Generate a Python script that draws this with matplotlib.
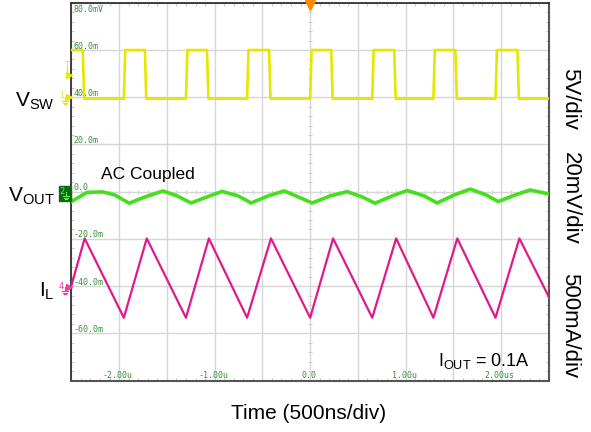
import matplotlib
matplotlib.use('Agg')
import matplotlib.pyplot as plt
from matplotlib import transforms
from matplotlib.patches import Rectangle

plt.rcParams['font.family'] = ['Liberation Sans', 'DejaVu Sans']
plt.rcParams['mathtext.fontset'] = 'custom'
plt.rcParams['mathtext.rm'] = 'Liberation Sans'

# ---------------- data (time in microseconds, 500 ns/div) ----------------
x_ticks = [-2.0, -1.0, 0.0, 1.0, 2.0]
x_tick_labels = ['-2.00u', '-1.00u', '0.0', '1.00u', '2.00us']
y_ticks = [80, 60, 40, 20, 0, -20, -40, -60]
y_tick_labels = ['80.0mV', '60.0m', '40.0m', '20.0m', '0.0', '-20.0m', '-40.0m', '-60.0m']

# Switch node voltage VSW (V)
vsw_high = 5.0
vsw_low = -0.15
vsw_rise_us = [-1.95, -1.30, -0.66, 0.00, 0.65, 1.29, 1.94]
vsw_fall_us = [-2.38, -1.73, -1.08, -0.43, 0.22, 0.88, 1.52, 2.17]

# Inductor current IL (mA), triangle vertices
il_t_us = [-2.50, -2.36, -1.95, -1.71, -1.30, -1.06, -0.66, -0.41,
           0.00, 0.24, 0.65, 0.90, 1.29, 1.54, 1.94, 2.19, 2.50]
il_ma = [10, 512, -328, 512, -328, 512, -328, 512,
         -328, 512, -328, 512, -328, 512, -328, 512, -110]

# Output ripple VOUT (mV, AC coupled)
vout_t_us = [-2.50, -2.335, -2.17, -2.045, -1.894, -1.727, -1.539, -1.392,
             -1.246, -1.078, -0.921, -0.754, -0.618, -0.44, -0.272, -0.126,
             0.021, 0.209, 0.387, 0.544, 0.680, 0.858, 1.015, 1.193,
             1.329, 1.507, 1.675, 1.842, 1.968, 2.146, 2.303, 2.50]
vout_mv = [-3.2, 0.7, 0.9, -0.4, -3.9, -1.2, 1.3, -0.8,
           -3.8, -1.2, 1.1, -0.8, -3.8, -0.8, 1.3, -1.2,
           -3.8, -0.8, 1.0, -1.2, -3.9, -0.8, 1.5, -0.8,
           -3.8, -0.4, 2.1, -0.4, -3.2, -0.4, 1.7, 0.0]

# channel display settings (screen units: 20 per division)
CH1_POS, CH1_SCALE = 40.0, 20.0 / 5.0      # 5 V/div
CH2_POS, CH2_SCALE = -1.0, 20.0 / 20.0     # 20 mV/div
CH4_POS, CH4_SCALE = -40.3, 20.0 / 500.0   # 500 mA/div

# ---------------- build VSW edges ----------------
events = sorted([(t, vsw_high) for t in vsw_rise_us] + [(t, vsw_low) for t in vsw_fall_us])
vsw_t = [-2.5]
vsw_v = [vsw_high]
cur = vsw_high
for t, lvl in events:
    vsw_t += [t, t + 0.015]
    vsw_v += [cur, lvl]
    cur = lvl
vsw_t.append(2.5)
vsw_v.append(cur)

# ---------------- figure ----------------
W, H = 591, 432
fig = plt.figure(figsize=(W / 100, H / 100), dpi=100)
L, R, T, B = 71.3, 549.0, 2.8, 380.5
ax = fig.add_axes([L / W, 1 - B / H, (R - L) / W, (B - T) / H])
ax.set_xlim(-2.5, 2.5)
ax.set_ylim(-80, 80)

ax.set_xticks([-2.5 + 0.5 * i for i in range(11)])
ax.set_yticks([-80 + 20 * i for i in range(9)])
ax.set_xticks([-2.5 + 0.1 * i for i in range(51)], minor=True)
ax.set_yticks([-80 + 4 * i for i in range(41)], minor=True)
ax.tick_params(which='major', length=0, labelbottom=False, labelleft=False)
ax.tick_params(which='minor', direction='in', length=2.5, color='#c8c8c8', width=0.7,
               top=True, right=True, bottom=True, left=True)
ax.grid(True, which='major', color='#d6d6d6', lw=1.0)
for s in ['left', 'top']:
    ax.spines[s].set_color('#303030')
    ax.spines[s].set_linewidth(1.3)
for s in ['right', 'bottom']:
    ax.spines[s].set_color('#555555')
    ax.spines[s].set_linewidth(1.5)

# center-line ticks
ax.plot([-2.5 + 0.1 * i for i in range(51)], [0] * 51, ls='none', marker='|',
        ms=3.5, mew=0.7, color='#c8c8c8', zorder=1)
ax.plot([0] * 41, [-80 + 4 * i for i in range(41)], ls='none', marker='_',
        ms=3.5, mew=0.7, color='#c8c8c8', zorder=1)

# traces
ax.plot(vsw_t, [CH1_POS + v * CH1_SCALE for v in vsw_v], color='#e6e600', lw=1.9,
        solid_joinstyle='round', zorder=3)
ax.plot(vout_t_us, [CH2_POS + v * CH2_SCALE for v in vout_mv], color='#44e01c', lw=2.6,
        solid_joinstyle='round', zorder=3)
ax.plot(il_t_us, [CH4_POS + v * CH4_SCALE for v in il_ma], color='#e0198c', lw=1.6,
        zorder=3)

# scope graticule labels
lab_col = '#3a8f3a'
ytr = transforms.offset_copy(ax.get_yaxis_transform(), fig=fig, x=2, y=1.5, units='dots')
for v, s in zip(y_ticks, y_tick_labels):
    if v == 80:
        ax.text(0.0, v, s, transform=transforms.offset_copy(ax.get_yaxis_transform(), fig=fig,
                x=2, y=-2, units='dots'), ha='left', va='top', fontsize=6,
                family='DejaVu Sans Mono', color=lab_col)
    else:
        ax.text(0.0, v, s, transform=ytr, ha='left', va='baseline', fontsize=6,
                family='DejaVu Sans Mono', color=lab_col)
xtr = transforms.offset_copy(ax.get_xaxis_transform(), fig=fig, x=-1.5, y=2, units='dots')
for v, s in zip(x_ticks, x_tick_labels):
    ax.text(v, 0.0, s, transform=xtr, ha='center', va='baseline', fontsize=6,
            family='DejaVu Sans Mono', color=lab_col)

# ---------------- overlay in pixel coordinates ----------------
ov = fig.add_axes([0, 0, 1, 1], zorder=5)
ov.set_xlim(0, W)
ov.set_ylim(H, 0)
ov.axis('off')
ov.patch.set_alpha(0)

# trigger position marker
ov.plot([310], [5], marker='v', ms=7, color='#ff8c00', mec='#ff8c00', clip_on=False)

# channel markers
yel = '#e8e800'
ov.text(66.5, 61.5, 'T', fontsize=6, color=yel, ha='center', va='top', family='DejaVu Sans')
ov.plot([66.5, 66.5], [66, 74], color=yel, lw=0.8)
ov.plot([68.8], [74.5], marker='>', ms=5, color=yel)
def ground(x, y, c):
    ov.plot([x, x], [y, y + 4], color=c, lw=0.8)
    ov.plot([x - 3, x + 3], [y + 4, y + 4], color=c, lw=0.8)
    ov.plot([x - 2, x + 2], [y + 5.5, y + 5.5], color=c, lw=0.8)
    ov.plot([x - 1, x + 1], [y + 7, y + 7], color=c, lw=0.8)
ov.text(61.5, 98, '1', fontsize=6, color=yel, ha='center', va='baseline', family='DejaVu Sans')
ground(64.5, 97, yel)
ov.plot([68.8], [97], marker='>', ms=5, color=yel)

ov.add_patch(Rectangle((59, 186), 12, 15, color='#0b6a12'))
ov.text(62.5, 194, '2', fontsize=6, color='#66ee55', ha='center', va='baseline', family='DejaVu Sans')
ground(66, 192, '#66ee55')

mag = '#ee3aa8'
ov.text(61.5, 289, '4', fontsize=6, color=mag, ha='center', va='baseline', family='DejaVu Sans')
ground(64.5, 287, mag)
ov.plot([68.8], [286.5], marker='>', ms=5, color=mag)

# left channel names
ov.text(55, 107, r'$\mathregular{V_{SW}}$', fontsize=15, ha='right', va='baseline')
ov.text(55, 202, r'$\mathregular{V_{OUT}}$', fontsize=15, ha='right', va='baseline')
ov.text(55, 297, r'$\mathregular{I_{L}}$', fontsize=15, ha='right', va='baseline')

# right scale labels
ov.text(570, 99, '5V/div', fontsize=16, rotation=-90, ha='center', va='center')
ov.text(570, 198, '20mV/div', fontsize=16, rotation=-90, ha='center', va='center')
ov.text(570, 326, '500mA/div', fontsize=16, rotation=-90, ha='center', va='center')

# annotations
ov.text(101, 179, 'AC Coupled', fontsize=12.5, ha='left', va='baseline')
ov.text(438, 366, r'$\mathregular{I_{OUT}}$ = 0.1A', fontsize=13, ha='left', va='baseline')
ov.text(309, 419, 'Time (500ns/div)', fontsize=15, ha='center', va='baseline')

fig.savefig('out.png', dpi=100)
